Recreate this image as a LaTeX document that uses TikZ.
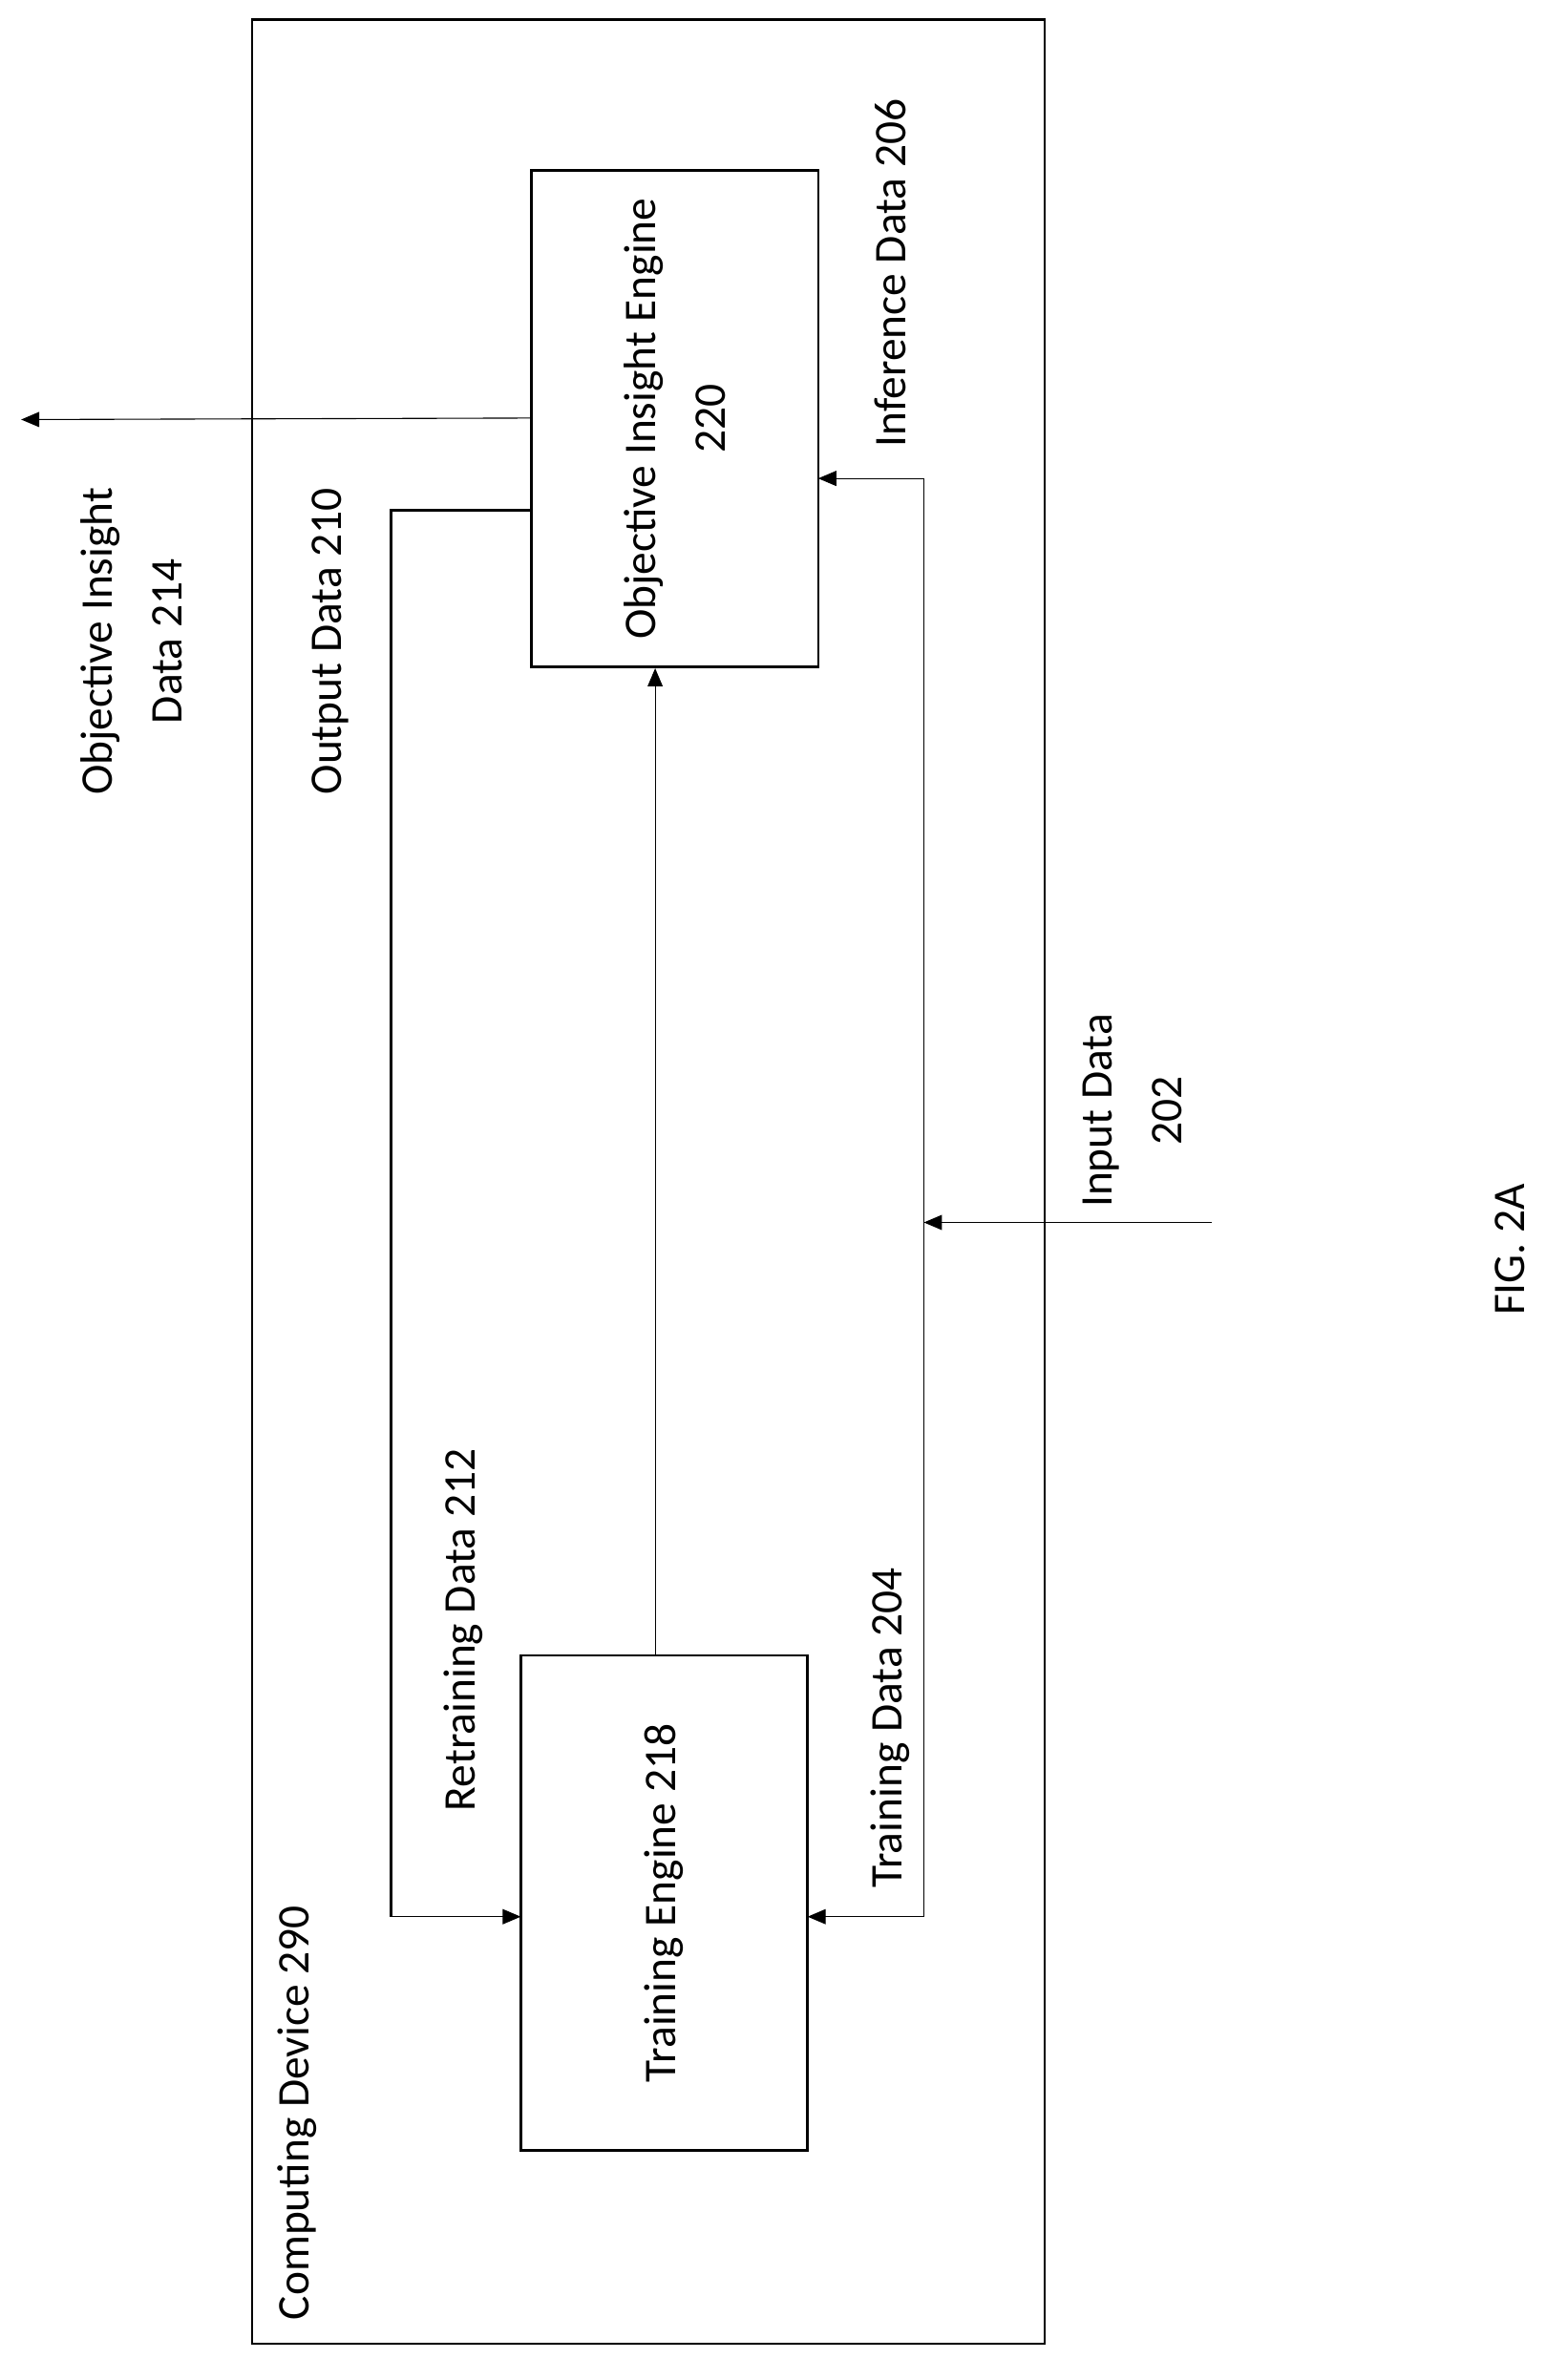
\documentclass[tikz,border=0pt]{standalone}
\usepackage{fontspec}
\setmainfont{Carlito}
\usetikzlibrary{arrows.meta}
\begin{document}
\begin{tikzpicture}[x=1pt,y=-1pt,
  box/.style={draw,line width=1.6pt,minimum width=190pt,minimum height=329pt,inner sep=0pt},
  lbl/.style={rotate=90,font=\fontsize{30}{46}\selectfont,align=center},
  thin/.style={line width=0.7pt},
  arr/.style={-{Triangle[length=12pt,width=10pt]}}]
\useasboundingbox (0,0) rectangle (1024,1577);
\draw[line width=1.6pt] (167,13) rectangle (692,1553);
\node[box] (oie) at (447,277.5) {};
\node[lbl] (oiet) at (oie.center) {Objective Insight Engine\\220};
\node[box,minimum height=328pt] (te) at (440,1261) {};
\node[lbl] (tet) at (te.center) {Training Engine 218};
\coordinate (oiout) at (14,278);
\coordinate (a1) at (259,338);
\coordinate (a2) at (259,1270);
\coordinate (in) at (803,810);
\coordinate (j) at (612,810);
\coordinate (t1) at (612,317);
\coordinate (t2) at (612,1270);
\draw[thin,arr] (352,277) -- (oiout);
\draw[line width=2pt] (352,338) -- (a1) -- (a2);
\draw[thin,arr] (a2) -- (345,1270);
\draw[thin,arr] (te.north -| 434,0) -- (oie.south -| 434,0);
\draw[thin,arr] (in) -- (j);
\draw[thin] (t1) -- (t2);
\draw[thin,arr] (t1) -- (542,317);
\draw[thin,arr] (t2) -- (535,1270);
\node[lbl] (l1) at (87,425) {Objective Insight\\Data 214};
\node[lbl] (l2) at (219,425) {Output Data 210};
\node[lbl] (l3) at (590,181) {Inference Data 206};
\node[lbl] (l4) at (750,736) {Input Data\\202};
\node[lbl] (l5) at (1000,828) {FIG. 2A};
\node[lbl] (l6) at (307,1080) {Retraining Data 212};
\node[lbl] (l7) at (590,1145) {Training Data 204};
\node[lbl] (l8) at (197,1400) {Computing Device 290};
\end{tikzpicture}
\end{document}
